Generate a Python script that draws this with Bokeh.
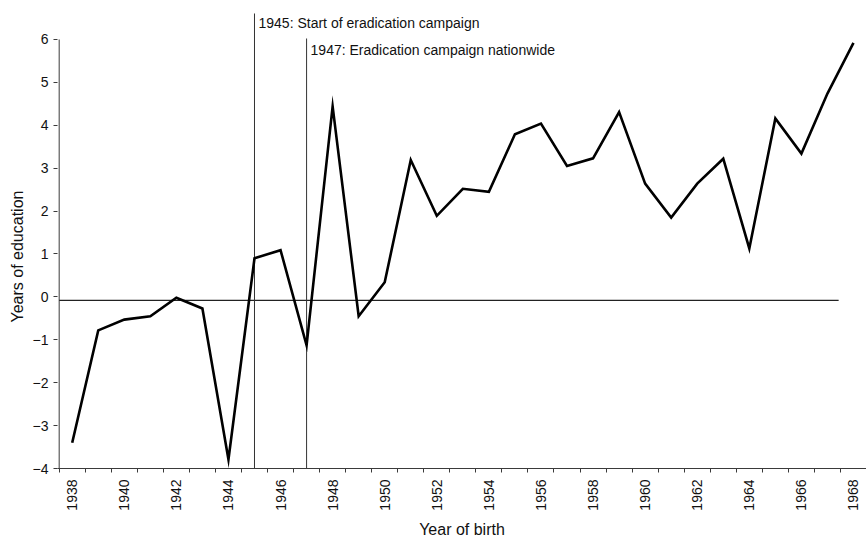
import math
from bokeh.plotting import figure
from bokeh.models import FixedTicker, Label, Range1d, Title
from bokeh.embed import file_html
from bokeh.resources import INLINE

years = list(range(1938, 1969))
education = [-3.40, -0.78, -0.53, -0.45, -0.02, -0.27, -3.79, 0.90, 1.09, -1.13,
             4.44, -0.45, 0.34, 3.19, 1.89, 2.52, 2.45, 3.79, 4.04, 3.05,
             3.23, 4.31, 2.64, 1.85, 2.64, 3.22, 1.13, 4.16, 3.34, 4.74, 5.92]
y_ticks = [-4, -3, -2, -1, 0, 1, 2, 3, 4, 5, 6]
x_label_ticks = list(range(1938, 1969, 2))
x_boundaries = [y - 0.5 for y in range(1938, 1969)]
event_years = [1945, 1947]
event_texts = ["1945: Start of eradication campaign", "1947: Eradication campaign nationwide"]
baseline_value = -0.08

FONT = "Liberation Sans"
AX = "#3a3a3a"

p = figure(width=866, height=540, output_backend="svg", toolbar_location=None,
           x_range=Range1d(1937.4355, 1968.5), y_range=Range1d(-4, 6.909),
           min_border_left=57, min_border_right=0, min_border_top=0, min_border_bottom=72)
p.outline_line_color = None
p.xgrid.visible = False
p.ygrid.visible = False
p.background_fill_color = "white"

# y axis
yax = p.yaxis[0]
yax.ticker = FixedTicker(ticks=y_ticks, minor_ticks=[])
yax.major_label_overrides = {t: (str(t) if t >= 0 else "\u2212" + str(-t)) for t in y_ticks}
yax.axis_line_color = None
yax.major_tick_out = 4
yax.major_tick_in = 0
yax.major_tick_line_color = AX
yax.minor_tick_line_color = None
yax.major_label_standoff = 5
yax.major_label_text_font = FONT
yax.major_label_text_font_size = "14px"
yax.major_label_text_color = "#111111"

# x axis
xax = p.xaxis[0]
xax.ticker = FixedTicker(ticks=x_label_ticks, minor_ticks=x_boundaries)
xax.axis_line_color = AX
xax.major_tick_out = 0
xax.major_tick_in = 0
xax.minor_tick_out = 4
xax.minor_tick_in = 0
xax.minor_tick_line_color = AX
xax.major_label_orientation = math.pi / 2
xax.major_label_standoff = 7
xax.major_label_text_font = FONT
xax.major_label_text_font_size = "14px"
xax.major_label_text_color = "#111111"
xax.axis_label = "Year of birth"
xax.axis_label_text_font = FONT
xax.axis_label_text_font_size = "16px"
xax.axis_label_text_font_style = "normal"
xax.axis_label_text_color = "#111111"
xax.axis_label_standoff = 7

# y axis title
p.add_layout(Title(text="Years of education", align="left", offset=146,
                   text_font=FONT, text_font_size="16px", text_font_style="normal",
                   text_color="#111111", standoff=7), "left")

# y axis line drawn manually (stops at 6)
p.segment(x0=[x_boundaries[0]], y0=[y_ticks[0]], x1=[x_boundaries[0]], y1=[y_ticks[-1]],
          line_color=AX, line_width=1)

# reference line near zero
p.segment(x0=[x_boundaries[0]], y0=[baseline_value], x1=[1967.43], y1=[baseline_value],
          line_color="#222222", line_width=1.2)

# event lines
p.segment(x0=event_years, y0=[y_ticks[0]] * 2, x1=event_years, y1=[6.606, 6.023],
          line_color="#333333", line_width=1)

# data line
p.line(years, education, line_color="black", line_width=2.6, line_join="miter")

# event labels
for yr, txt, yv in zip(event_years, event_texts, [6.396, 5.744]):
    p.add_layout(Label(x=yr, y=yv, x_offset=4, text=txt, text_font=FONT,
                       text_font_size="14px", text_color="#111111",
                       text_baseline="alphabetic", text_align="left"))

open("out.html", "w").write(file_html(p, INLINE))
